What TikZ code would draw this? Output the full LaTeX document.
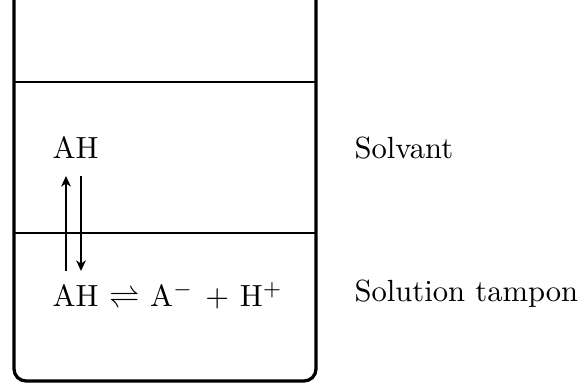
\documentclass[tikz,border=0pt]{standalone}
\usetikzlibrary{arrows.meta}
\begin{document}
\begin{tikzpicture}[x=0.3333pt,y=-0.3333pt,
  wall/.style={line width=1.1pt, rounded corners=4pt},
  level/.style={line width=0.5pt},
  flux/.style={line width=0.8pt, -{Stealth[length=3.5pt,width=3.2pt,inset=1pt]}},
  lbl/.style={anchor=base west, inner sep=0pt, font=\fontsize{10.2}{12}\selectfont}]
\useasboundingbox (0,0) rectangle (585,385);
\draw[wall] (14,-5) -- (14,381) -- (316,381) -- (316,-5);
\coordinate (l1a) at (14,82); \coordinate (l1b) at (316,82);
\coordinate (l2a) at (14,233); \coordinate (l2b) at (316,233);
\draw[level] (l1a) -- (l1b);
\draw[level] (l2a) -- (l2b);
\node[lbl] (ah) at (52,158) {AH};
\node[lbl] (eq) at (52,306) {AH\hspace{3.6pt}$\rightleftharpoons$\hspace{3.6pt}A$^{-}$\hspace{4pt}+\hspace{3.6pt}H$^{+}$};
\node[lbl] (solv) at (354,158) {Solvant};
\node[lbl] (tamp) at (354,301) {Solution tampon};
\coordinate (u1) at (66,271); \coordinate (u2) at (66,176);
\coordinate (d1) at (81,176); \coordinate (d2) at (81,271);
\draw[flux] (u1) -- (u2);
\draw[flux] (d1) -- (d2);
\end{tikzpicture}
\end{document}
